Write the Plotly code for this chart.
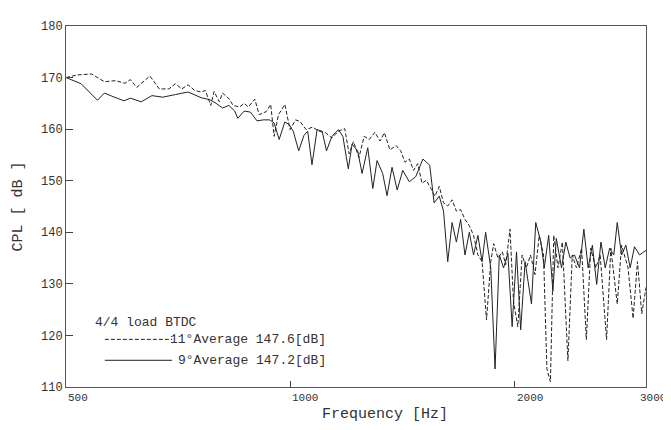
import math
import plotly.graph_objects as go

# 9 deg (solid)
freq_9 = [500, 524, 551, 563, 576, 598, 610, 631, 652, 674, 701, 729, 759, 780, 795, 811, 827, 842, 850, 867,
          884, 902, 920, 938, 951, 966, 983, 996, 1009, 1026, 1043, 1055, 1069, 1086, 1103, 1118, 1137, 1160, 1176, 1196,
          1210, 1231, 1248, 1270, 1290, 1307, 1330, 1348, 1369, 1391, 1415, 1444, 1473, 1506, 1538, 1559, 1584, 1605, 1626, 1648,
          1670, 1692, 1715, 1738, 1761, 1785, 1808, 1828, 1857, 1882, 1907, 1932, 1958, 1984, 2011, 2037, 2065, 2106, 2134, 2168,
          2191, 2221, 2250, 2274, 2311, 2342, 2373, 2405, 2443, 2476, 2509, 2542, 2576, 2610, 2645, 2681, 2716, 2745, 2782, 2819,
          2857, 2895, 2941, 3000]
cpl_9 = [170.0, 168.8, 165.6, 167.0, 166.4, 165.5, 166.0, 165.3, 166.5, 166.2, 166.7, 167.2, 166.1, 165.7, 165.0, 164.1, 164.6, 163.5, 162.1, 163.5,
         163.3, 161.6, 161.8, 161.8, 161.2, 158.0, 161.4, 160.9, 159.6, 155.8, 158.8, 159.6, 153.1, 159.9, 159.6, 155.8, 158.6, 159.9, 158.6, 152.3,
         157.1, 155.8, 151.4, 156.4, 148.5, 153.9, 151.4, 147.1, 152.6, 148.2, 152.0, 149.8, 150.8, 154.2, 153.0, 145.7, 147.0, 144.1, 134.3, 141.9,
         138.1, 142.5, 135.6, 140.0, 135.6, 139.4, 134.3, 140.0, 133.1, 113.5, 135.6, 133.1, 135.9, 121.7, 136.2, 121.1, 134.3, 126.1, 141.9, 138.1,
         133.1, 139.4, 128.6, 138.8, 133.1, 138.1, 135.0, 135.6, 133.1, 140.6, 133.1, 137.5, 129.9, 138.1, 133.1, 136.9, 135.6, 141.9, 135.6, 137.5,
         133.1, 137.2, 135.6, 136.5]

# 11 deg (dashed)
freq_11 = [500, 517, 541, 563, 582, 600, 610, 622, 648, 667, 687, 701, 715, 729, 744, 759, 769, 782, 790, 803,
           811, 827, 838, 855, 867, 878, 896, 908, 928, 941, 951, 964, 983, 999, 1016, 1030, 1050, 1071, 1093, 1115,
           1137, 1160, 1183, 1199, 1215, 1236, 1256, 1276, 1298, 1319, 1337, 1360, 1387, 1406, 1425, 1444, 1463, 1482, 1502, 1522,
           1543, 1563, 1584, 1605, 1626, 1648, 1670, 1692, 1715, 1738, 1761, 1785, 1808, 1833, 1857, 1874, 1899, 1925, 1945, 1971,
           1992, 2019, 2046, 2073, 2100, 2129, 2157, 2186, 2209, 2233, 2256, 2286, 2317, 2357, 2389, 2420, 2459, 2495, 2529, 2569,
           2604, 2656, 2691, 2745, 2782, 2838, 2883, 2922, 2961, 3000]
cpl_11 = [170.0, 170.5, 170.7, 169.2, 169.4, 168.9, 169.6, 168.1, 170.3, 167.8, 167.8, 168.8, 167.8, 168.6, 167.5, 167.2, 167.5, 164.6, 167.3, 165.3,
          167.0, 165.9, 164.6, 164.3, 165.0, 164.3, 165.8, 162.8, 163.4, 164.8, 158.6, 162.8, 164.8, 159.9, 161.8, 161.5, 159.9, 160.4, 159.6, 159.3,
          158.3, 159.6, 160.1, 155.2, 157.6, 154.5, 158.6, 158.0, 159.4, 157.7, 159.3, 156.0, 156.8, 155.8, 153.6, 154.2, 152.0, 153.3, 149.5, 150.1,
          148.5, 147.0, 148.9, 145.7, 145.1, 146.3, 144.1, 144.4, 142.5, 141.3, 139.4, 135.6, 134.3, 123.0, 134.3, 137.8, 135.0, 136.2, 133.7, 140.6,
          126.7, 121.7, 135.6, 133.1, 135.6, 131.8, 139.4, 135.6, 113.5, 111.0, 139.4, 133.1, 138.1, 115.1, 135.6, 133.1, 136.9, 119.2, 136.9, 133.1,
          135.6, 119.2, 136.9, 126.1, 137.5, 133.1, 123.3, 134.3, 124.2, 129.3]

x_ticks = [500, 1000, 2000, 3000]
y_ticks = [110, 120, 130, 140, 150, 160, 170, 180]

legend_title = "4/4 load BTDC"
label_11 = "11°Average 147.6[dB]"
label_9 = "9°Average 147.2[dB]"

FONT = "Liberation Mono, DejaVu Sans Mono, monospace"
INK = "#222222"
TXT = "#333333"

fig = go.Figure()
fig.add_trace(go.Scatter(x=freq_11, y=cpl_11, mode="lines", name=label_11,
                         line=dict(color=INK, width=1, dash="4px,2px")))
fig.add_trace(go.Scatter(x=freq_9, y=cpl_9, mode="lines", name=label_9,
                         line=dict(color=INK, width=1)))

# page body has an 8px default margin, so the figure is sized to fit the window
fig.update_layout(
    width=663, height=422,
    margin=dict(l=58, r=25, t=16, b=43),
    paper_bgcolor="white", plot_bgcolor="white",
    showlegend=False,
    font=dict(family=FONT, color=TXT, size=12),
)
fig.update_xaxes(
    type="log", range=[math.log10(500), math.log10(3000)],
    tickvals=[1000, 2000], showticklabels=False,
    ticks="inside", ticklen=6, tickcolor="#444",
    showline=True, linecolor="#555", linewidth=1, mirror=True,
    showgrid=False, zeroline=False,
)
fig.update_yaxes(
    range=[110, 180], tickvals=y_ticks,
    ticks="inside", ticklen=7, tickcolor="#444",
    showline=True, linecolor="#555", linewidth=1, mirror=True,
    showgrid=False, zeroline=False,
    tickfont=dict(size=12, family=FONT),
)

# x tick labels, left-aligned at their ticks; the last one right-aligned to the window edge
for v in x_ticks[:-1]:
    fig.add_annotation(xref="x", yref="paper", x=math.log10(v), y=0, yshift=-3, text=str(v),
                       showarrow=False, xanchor="left", yanchor="top", font=dict(size=11, family=FONT))
fig.add_annotation(xref="paper", yref="paper", x=1, xshift=22, y=0, yshift=-3, text=str(x_ticks[-1]),
                   showarrow=False, xanchor="right", yanchor="top", font=dict(size=11, family=FONT))

# axis titles
fig.add_annotation(xref="paper", yref="paper", x=0.55, y=0, yshift=-17, text="Frequency [Hz]",
                   showarrow=False, xanchor="center", yanchor="top", font=dict(size=15, family=FONT))
fig.add_annotation(xref="paper", yref="paper", x=0, xshift=-48, y=0.50, text="CPL [ dB ]", textangle=-90,
                   showarrow=False, xanchor="center", yanchor="middle", font=dict(size=15, family=FONT))

# legend drawn inside the plot
fig.add_annotation(xref="paper", yref="paper", x=0.046, y=0.18, text=legend_title,
                   showarrow=False, xanchor="left", yanchor="middle", font=dict(size=13, family=FONT))
fig.add_shape(type="line", xref="paper", yref="paper", x0=0.067, x1=0.183, y0=0.132, y1=0.132,
              line=dict(color=INK, width=1, dash="4px,2px"))
fig.add_shape(type="line", xref="paper", yref="paper", x0=0.067, x1=0.183, y0=0.074, y1=0.074,
              line=dict(color=INK, width=1))
fig.add_annotation(xref="paper", yref="paper", x=0.452, y=0.132, text=label_11,
                   showarrow=False, xanchor="right", yanchor="middle", font=dict(size=13, family=FONT))
fig.add_annotation(xref="paper", yref="paper", x=0.452, y=0.074, text=label_9,
                   showarrow=False, xanchor="right", yanchor="middle", font=dict(size=13, family=FONT))

fig.write_html("out.html")
